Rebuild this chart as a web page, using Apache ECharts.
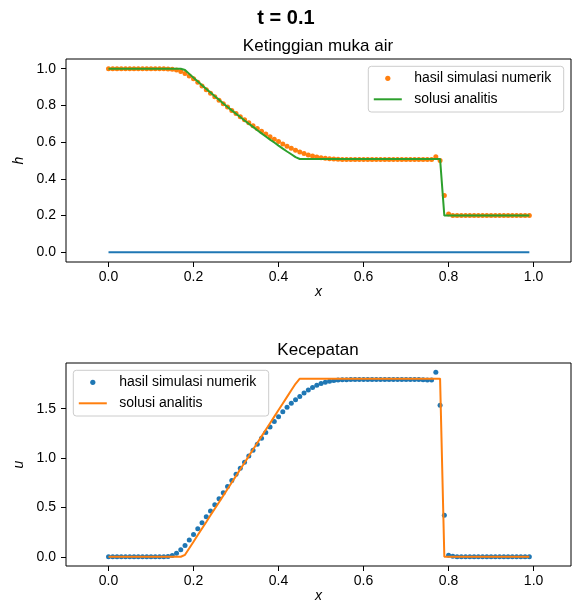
<!DOCTYPE html>
<html>
<head>
<meta charset="utf-8">
<script src="https://cdn.jsdelivr.net/npm/echarts@6/dist/echarts.min.js"></script>
<style>
html,body{margin:0;padding:0;background:#fff;}
#chart{width:572px;height:606px;}
</style>
</head>
<body>
<div id="chart"></div>
<script>
// x grid (cell positions)
const xs = [0.00,0.01,0.02,0.03,0.04,0.05,0.06,0.07,0.08,0.09,
            0.10,0.11,0.12,0.13,0.14,0.15,0.16,0.17,0.18,0.19,
            0.20,0.21,0.22,0.23,0.24,0.25,0.26,0.27,0.28,0.29,
            0.30,0.31,0.32,0.33,0.34,0.35,0.36,0.37,0.38,0.39,
            0.40,0.41,0.42,0.43,0.44,0.45,0.46,0.47,0.48,0.49,
            0.50,0.51,0.52,0.53,0.54,0.55,0.56,0.57,0.58,0.59,
            0.60,0.61,0.62,0.63,0.64,0.65,0.66,0.67,0.68,0.69,
            0.70,0.71,0.72,0.73,0.74,0.75,0.76,0.77,0.78,0.79,
            0.80,0.81,0.82,0.83,0.84,0.85,0.86,0.87,0.88,0.89,
            0.90,0.91,0.92,0.93,0.94,0.95,0.96,0.97,0.98,0.99];

// bed elevation (blue line in top panel)
const bedX = [0.00, 0.99];
const bedZ = [0.0, 0.0];

// water depth h: numerical
const hNum = [1,1,1,1,1,1,1,1,1,1,
              1,1,1,1,0.999,0.997,0.993,0.985,0.974,0.961,
              0.945,0.926,0.906,0.886,0.866,0.847,0.828,0.809,0.791,0.773,
              0.756,0.739,0.722,0.706,0.690,0.674,0.659,0.644,0.630,0.616,
              0.603,0.590,0.578,0.567,0.556,0.546,0.538,0.530,0.524,0.519,
              0.515,0.512,0.510,0.508,0.507,0.506,0.505,0.505,0.505,0.505,
              0.505,0.505,0.505,0.505,0.505,0.505,0.505,0.505,0.505,0.505,
              0.505,0.505,0.505,0.505,0.505,0.505,0.505,0.521,0.500,0.309,
              0.209,0.201,0.200,0.200,0.200,0.200,0.200,0.200,0.200,0.200,
              0.200,0.200,0.200,0.200,0.200,0.200,0.200,0.200,0.200,0.200];

// water depth h: analytic
const hAna = [1,1,1,1,1,1,1,1,1,1,
              1,1,1,1,1,1,1,1,0.993,0.972,
              0.951,0.931,0.910,0.890,0.870,0.850,0.831,0.811,0.792,0.773,
              0.755,0.737,0.718,0.700,0.683,0.665,0.648,0.631,0.614,0.598,
              0.581,0.565,0.549,0.534,0.518,0.508,0.508,0.508,0.508,0.508,
              0.508,0.508,0.508,0.508,0.508,0.508,0.508,0.508,0.508,0.508,
              0.508,0.508,0.508,0.508,0.508,0.508,0.508,0.508,0.508,0.508,
              0.508,0.508,0.508,0.508,0.508,0.508,0.508,0.508,0.508,0.2,
              0.2,0.2,0.2,0.2,0.2,0.2,0.2,0.2,0.2,0.2,
              0.2,0.2,0.2,0.2,0.2,0.2,0.2,0.2,0.2,0.2];

// velocity u: numerical
const uNum = [0,0,0,0,0,0,0,0,0,0,
              0,0,0,0,0.003,0.012,0.035,0.070,0.115,0.170,
              0.225,0.285,0.345,0.405,0.465,0.527,0.588,0.650,0.712,0.773,
              0.835,0.897,0.958,1.020,1.080,1.140,1.200,1.260,1.315,1.370,
              1.420,1.470,1.515,1.555,1.592,1.625,1.660,1.690,1.715,1.737,
              1.755,1.768,1.778,1.785,1.790,1.793,1.795,1.797,1.797,1.797,
              1.797,1.797,1.797,1.797,1.797,1.797,1.797,1.797,1.797,1.797,
              1.797,1.797,1.797,1.797,1.795,1.790,1.790,1.870,1.535,0.420,
              0.015,0.005,0,0,0,0,0,0,0,0,
              0,0,0,0,0,0,0,0,0,0];

// velocity u: analytic
const uAna = [0,0,0,0,0,0,0,0,0,0,
              0,0,0,0,0,0,0,0,0.020,0.087,
              0.153,0.220,0.287,0.353,0.420,0.487,0.553,0.620,0.687,0.753,
              0.820,0.887,0.953,1.020,1.087,1.153,1.220,1.287,1.353,1.420,
              1.487,1.553,1.620,1.687,1.753,1.805,1.805,1.805,1.805,1.805,
              1.805,1.805,1.805,1.805,1.805,1.805,1.805,1.805,1.805,1.805,
              1.805,1.805,1.805,1.805,1.805,1.805,1.805,1.805,1.805,1.805,
              1.805,1.805,1.805,1.805,1.805,1.805,1.805,1.805,1.805,0,
              0,0,0,0,0,0,0,0,0,0,
              0,0,0,0,0,0,0,0,0,0];

const xTicks = [0.0, 0.2, 0.4, 0.6, 0.8, 1.0];
const hTicks = [0.0, 0.2, 0.4, 0.6, 0.8, 1.0];
const uTicks = [0.0, 0.5, 1.0, 1.5];

const legendNum = 'hasil simulasi numerik';
const legendAna = 'solusi analitis';

const C0 = '#1f77b4', C1 = '#ff7f0e', C2 = '#2ca02c';
const FONT = '"Liberation Sans", Arial, Helvetica, sans-serif';

const pair = (xa, ya) => xa.map((x, i) => [x, ya[i]]);

const G = [
  {left: 66, top: 59, width: 505, height: 203},
  {left: 66, top: 363, width: 505, height: 203}
];

function xAxisCfg(gi) {
  return {
    type: 'value', gridIndex: gi, min: -0.1, max: 1.088,
    name: 'x', nameLocation: 'middle', nameGap: 22,
    nameTextStyle: {fontFamily: FONT, fontSize: 14, fontStyle: 'italic', color: '#000', verticalAlign: 'top'},
    axisLine: {show: false, onZero: false},
    axisTick: {show: true, length: 5, inside: false, customValues: xTicks, lineStyle: {color: '#000', width: 1}},
    axisLabel: {customValues: xTicks, margin: 8, fontFamily: FONT, fontSize: 14, color: '#000',
                formatter: v => Number(v).toFixed(1)},
    splitLine: {show: false}
  };
}
function yAxisCfg(gi, name, min, max, ticks) {
  return {
    type: 'value', gridIndex: gi, min: min, max: max,
    name: name, nameLocation: 'middle', nameGap: 38, nameRotate: 90,
    nameTextStyle: {fontFamily: FONT, fontSize: 14, fontStyle: 'italic', color: '#000'},
    axisLine: {show: false, onZero: false},
    axisTick: {show: true, length: 5, inside: false, customValues: ticks, lineStyle: {color: '#000', width: 1}},
    axisLabel: {customValues: ticks, margin: 10, fontFamily: FONT, fontSize: 14, color: '#000',
                formatter: v => Number(v).toFixed(1)},
    splitLine: {show: false}
  };
}

function legendGraphics(bx, by, dotColor, lineColor) {
  const w = 195.4, h = 45.7;
  const mx = bx + 19.5, r1 = by + 12, r2 = by + 33;
  return [
    {type: 'rect', z: 100, shape: {x: bx, y: by, width: w, height: h, r: 3},
     style: {fill: 'rgba(255,255,255,0.8)', stroke: '#cccccc', lineWidth: 1}},
    {type: 'circle', z: 101, shape: {cx: mx, cy: r1, r: 2.6}, style: {fill: dotColor}},
    {type: 'line', z: 101, shape: {x1: mx - 14, y1: r2, x2: mx + 14, y2: r2},
     style: {stroke: lineColor, lineWidth: 2}},
    {type: 'text', z: 101, x: mx + 26.5, y: r1,
     style: {text: legendNum, font: '14px ' + FONT, fill: '#000', verticalAlign: 'middle', align: 'left'}},
    {type: 'text', z: 101, x: mx + 26.5, y: r2,
     style: {text: legendAna, font: '14px ' + FONT, fill: '#000', verticalAlign: 'middle', align: 'left'}}
  ];
}

const chart = echarts.init(document.getElementById('chart'), null, {renderer: 'canvas'});
chart.setOption({
  animation: false,
  backgroundColor: '#fff',
  title: [
    {text: 't = 0.1', left: 281, textAlign: 'center', top: 3,
     textStyle: {fontFamily: FONT, fontSize: 20, fontWeight: 'bold', color: '#000'}},
    {text: 'Ketinggian muka air', left: 313, textAlign: 'center', top: 33,
     textStyle: {fontFamily: FONT, fontSize: 17, fontWeight: 'normal', color: '#000'}},
    {text: 'Kecepatan', left: 313, textAlign: 'center', top: 337,
     textStyle: {fontFamily: FONT, fontSize: 17, fontWeight: 'normal', color: '#000'}}
  ],
  grid: G.map(g => Object.assign({show: true, borderColor: '#000', borderWidth: 1, backgroundColor: 'transparent',
                                   containLabel: false, outerBoundsMode: 'none'}, g)),
  xAxis: [xAxisCfg(0), xAxisCfg(1)],
  yAxis: [yAxisCfg(0, 'h', -0.053, 1.053, hTicks), yAxisCfg(1, 'u', -0.0935, 1.9635, uTicks)],
  series: [
    {type: 'line', xAxisIndex: 0, yAxisIndex: 0, data: pair(bedX, bedZ), symbol: 'none',
     lineStyle: {color: C0, width: 2}, z: 2},
    {type: 'scatter', name: legendNum, xAxisIndex: 0, yAxisIndex: 0, data: pair(xs, hNum),
     symbol: 'circle', symbolSize: 5, itemStyle: {color: C1, opacity: 1}, z: 3},
    {type: 'line', name: legendAna, xAxisIndex: 0, yAxisIndex: 0, data: pair(xs, hAna), symbol: 'none',
     lineStyle: {color: C2, width: 2}, z: 4},
    {type: 'scatter', name: legendNum, xAxisIndex: 1, yAxisIndex: 1, data: pair(xs, uNum),
     symbol: 'circle', symbolSize: 5, itemStyle: {color: C0, opacity: 1}, z: 3},
    {type: 'line', name: legendAna, xAxisIndex: 1, yAxisIndex: 1, data: pair(xs, uAna), symbol: 'none',
     lineStyle: {color: C1, width: 2}, z: 4}
  ],
  graphic: [].concat(
    legendGraphics(368.3, 66.3, C1, C2),
    legendGraphics(73.3, 370.3, C0, C1)
  )
});
</script>
</body>
</html>
